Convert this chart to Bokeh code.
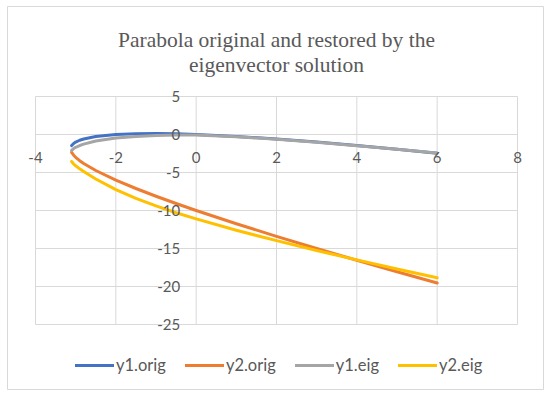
from bokeh.plotting import figure
from bokeh.models import (ColumnDataSource, LabelSet, Label, Legend, LegendItem, Range1d)
from bokeh.core.properties import value
from bokeh.embed import file_html
from bokeh.resources import INLINE

# ---- data ----
x_vals = [-3.1, -3.05, -3.0, -2.9, -2.8, -2.5, -2.0, -1.5, -1.0, -0.5, 0.0, 1.0, 2.0, 3.0, 4.0, 5.0, 6.0]
y1_orig = [-1.453, -1.175, -1.0, -0.758, -0.588, -0.264, 0.0, 0.106, 0.123, 0.083, 0.0,
           -0.256, -0.597, -1.0, -1.45, -1.938, -2.456]
y2_orig = [-2.347, -2.725, -3.0, -3.442, -3.812, -4.736, -6.0, -7.106, -8.123, -9.083, -10.0,
           -11.744, -13.403, -15.0, -16.55, -18.062, -19.544]
y1_eig = [-2.1, -1.85, -1.68, -1.45, -1.27, -0.85, -0.45, -0.26, -0.13, -0.07, -0.05,
          -0.3, -0.62, -1.02, -1.47, -1.93, -2.42]
y2_eig = [-3.55, -3.88, -4.12, -4.52, -4.88, -5.85, -7.25, -8.4, -9.4, -10.3, -11.1,
          -12.6, -13.97, -15.27, -16.5, -17.7, -18.86]

x_ticks = [-4, -2, 0, 2, 4, 6, 8]
x_tick_labels = ["-4", "-2", "0", "2", "4", "6", "8"]
y_ticks = [5, 0, -5, -10, -15, -20, -25]
y_tick_labels = ["5", "0", "-5", "-10", "-15", "-20", "-25"]

series_names = ["y1.orig", "y2.orig", "y1.eig", "y2.eig"]
series_colors = ["#4472C4", "#ED7D31", "#A5A5A5", "#FFC000"]
title_lines = ["Parabola original and restored by the", "eigenvector solution"]

GRID = "#d9d9d9"
TXT = "#595959"

# ---- layout (pixels) ----
W, H = 537, 384                 # chart canvas (outer border)
PL, PR, PT, PB = 28, 510, 90, 318   # plot area inside canvas
XMIN, XMAX = min(x_ticks), max(x_ticks)
YMIN, YMAX = min(y_ticks), max(y_ticks)
sx = (PR - PL) / (XMAX - XMIN)
sy = (PB - PT) / (YMAX - YMIN)
x_range = Range1d(XMIN - PL / sx, XMAX + (W - PR) / sx)
y_range = Range1d(YMIN - (H - PB) / sy, YMAX + PT / sy)

p = figure(width=W, height=H, x_range=x_range, y_range=y_range,
           x_axis_location=None, y_axis_location=None,
           output_backend="svg", toolbar_location=None,
           min_border=0, min_border_left=0, min_border_right=0,
           min_border_top=0, min_border_bottom=0,
           outline_line_color=GRID, outline_line_width=1,
           background_fill_color="white", border_fill_color="white",
           styles={"margin-left": "7px", "margin-top": "6px"})
p.grid.visible = False

# grid lines limited to the plot area
p.segment(x0=x_ticks, y0=[YMIN] * len(x_ticks), x1=x_ticks, y1=[YMAX] * len(x_ticks),
          line_color=GRID, line_width=1)
p.segment(x0=[XMIN] * len(y_ticks), y0=y_ticks, x1=[XMAX] * len(y_ticks), y1=y_ticks,
          line_color=GRID, line_width=1)

# tick labels placed on axes crossing at zero
xsrc = ColumnDataSource(dict(x=x_ticks, t=x_tick_labels))
ysrc = ColumnDataSource(dict(y=y_ticks, t=y_tick_labels))
p.add_layout(LabelSet(x="x", y=0, y_offset=-23, text="t", source=xsrc,
                      text_align="center", text_baseline="middle",
                      text_font=value("Lato"), text_font_size=value("15px"),
                      text_color=TXT))
p.add_layout(LabelSet(x=0, x_offset=-16, y="y", text="t", source=ysrc,
                      text_align="right", text_baseline="middle",
                      text_font=value("Lato"), text_font_size=value("15px"),
                      text_color=TXT))

# lines
series = [y1_orig, y2_orig, y1_eig, y2_eig]
renderers = []
for ys, c in zip(series, series_colors):
    r = p.line(x_vals, ys, line_color=c, line_width=3, line_cap="round", line_join="round")
    renderers.append(r)

# title
xc = (XMIN + XMAX) / 2
p.add_layout(Label(x=xc, y=YMAX, y_offset=57, text=title_lines[0], text_align="center",
                   text_baseline="alphabetic", text_font="Liberation Serif",
                   text_font_size="21.5px", text_color=TXT))
p.add_layout(Label(x=xc, y=YMAX, y_offset=31.5, text=title_lines[1], text_align="center",
                   text_baseline="alphabetic", text_font="Liberation Serif",
                   text_font_size="21.5px", text_color=TXT))

legend = Legend(items=[LegendItem(label=n, renderers=[r]) for n, r in zip(series_names, renderers)],
                orientation="horizontal", location=(68, 15),
                glyph_width=39, glyph_height=20, label_height=20,
                label_standoff=2, spacing=19, padding=0, margin=0,
                border_line_color=None, background_fill_alpha=0,
                label_text_font="Lato", label_text_font_size="16.5px",
                label_text_color=TXT)
p.add_layout(legend)

open("out.html", "w").write(file_html(p, INLINE))
